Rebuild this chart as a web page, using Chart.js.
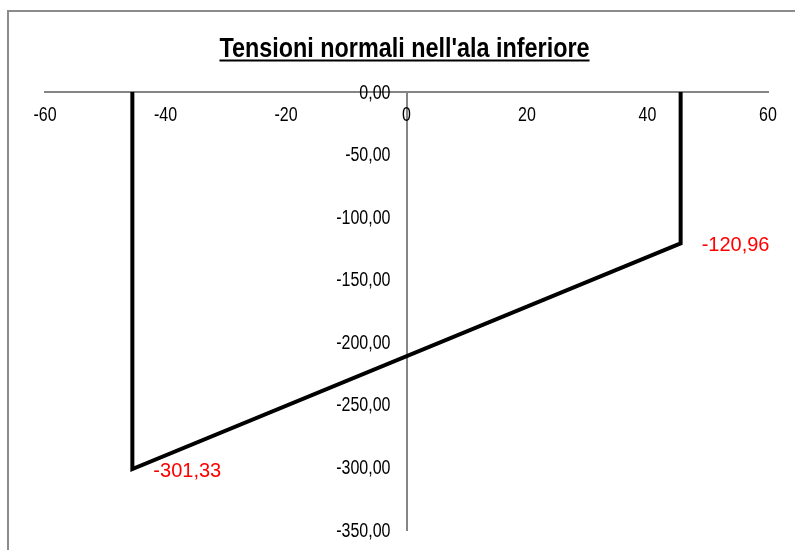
<!DOCTYPE html>
<html>
<head>
<meta charset="utf-8">
<script src="https://cdn.jsdelivr.net/npm/chart.js@4.4.1/dist/chart.umd.min.js"></script>
<style>
  html, body { margin: 0; padding: 0; background: #fff; }
  #wrap { width: 795px; height: 550px; position: relative; }
  canvas { display: block; }
</style>
</head>
<body>
<div id="wrap"><canvas id="c" width="795" height="550"></canvas></div>
<script>
const chartTitle = "Tensioni normali nell'ala inferiore";

// Bottom flange: transverse coordinate and normal stress
const flangeX = [-45.5, -45.5, 45.5, 45.5];
const stressValues = [0, -301.33, -120.96, 0];
const labelledIndices = [1, 2];

// Axis ticks
const xTickValues = [-60, -40, -20, 0, 20, 40, 60];
const yTickValues = [0, -50, -100, -150, -200, -250, -300, -350];

const SANS = '"Liberation Sans", Arial, sans-serif';
const NARROW_SCALE = 0.82; // Arial Narrow proportions

const fmt2 = v => v.toFixed(2).replace('.', ',');

const points = flangeX.map((x, i) => ({ x: x, y: stressValues[i] }));

// Draw text horizontally condensed, like a narrow typeface
function narrowText(ctx, text, x, y, align, squeeze) {
  ctx.save();
  ctx.translate(x, y);
  ctx.scale(squeeze || NARROW_SCALE, 1);
  ctx.textAlign = align;
  ctx.fillText(text, 0, 0);
  ctx.restore();
}

// White page with grey outer frame
const framePlugin = {
  id: 'frame',
  beforeDraw(chart) {
    const ctx = chart.ctx;
    ctx.save();
    ctx.fillStyle = '#ffffff';
    ctx.fillRect(0, 0, chart.width, chart.height);
    ctx.strokeStyle = '#8c8c8c';
    ctx.lineWidth = 2;
    ctx.strokeRect(8, 11, chart.width + 20, chart.height + 20);
    ctx.restore();
  }
};

// Tick labels in a narrow face, placed from the chart's own scales
const tickLabelPlugin = {
  id: 'narrowTicks',
  afterDraw(chart) {
    const ctx = chart.ctx;
    const xs = chart.scales.x, ys = chart.scales.y;
    const axisY = ys.getPixelForValue(0);
    const axisX = xs.getPixelForValue(0);
    ctx.save();
    ctx.font = '20px ' + SANS;
    ctx.fillStyle = '#000';
    ctx.textBaseline = 'middle';
    xs.ticks.forEach(t => {
      narrowText(ctx, String(t.value), xs.getPixelForValue(t.value), axisY + 23, 'center', 0.8);
    });
    ys.ticks.forEach(t => {
      narrowText(ctx, fmt2(t.value), axisX - 16, ys.getPixelForValue(t.value) + 1, 'right', 0.8);
    });
    ctx.restore();
  }
};

// Bold underlined title
const titlePlugin = {
  id: 'underlinedTitle',
  afterDraw(chart) {
    const ctx = chart.ctx;
    ctx.save();
    ctx.font = 'bold 28.5px ' + SANS;
    ctx.fillStyle = '#000';
    ctx.textBaseline = 'alphabetic';
    const cx = 404.5, base = 56.5;
    narrowText(ctx, chartTitle, cx, base, 'center');
    const w = ctx.measureText(chartTitle).width * NARROW_SCALE;
    ctx.fillRect(cx - w / 2, base + 3, w, 2);
    ctx.restore();
  }
};

// Red value labels next to the stress extremes
const valueLabelPlugin = {
  id: 'valueLabels',
  afterDatasetsDraw(chart) {
    const ctx = chart.ctx;
    const meta = chart.getDatasetMeta(0);
    ctx.save();
    ctx.font = '20px ' + SANS;
    ctx.fillStyle = '#ff0000';
    ctx.textAlign = 'left';
    ctx.textBaseline = 'middle';
    labelledIndices.forEach(i => {
      const el = meta.data[i];
      ctx.fillText(fmt2(stressValues[i]), el.x + 21, el.y + 2);
    });
    ctx.restore();
  }
};

new Chart(document.getElementById('c'), {
  type: 'scatter',
  data: {
    datasets: [{
      data: points,
      showLine: true,
      borderColor: '#000000',
      borderWidth: 4,
      borderJoinStyle: 'miter',
      pointRadius: 0,
      pointHoverRadius: 0,
      fill: false,
      tension: 0
    }]
  },
  options: {
    responsive: false,
    animation: false,
    devicePixelRatio: 1,
    events: [],
    layout: { padding: { left: 45, right: 27, top: 92, bottom: 20 } },
    plugins: { legend: { display: false }, title: { display: false }, tooltip: { enabled: false } },
    scales: {
      x: {
        type: 'linear',
        position: { y: 0 },
        min: -60, max: 60,
        afterBuildTicks: s => { s.ticks = xTickValues.map(v => ({ value: v })); },
        grid: { display: false, drawTicks: false },
        border: { display: true, color: '#858585', width: 2 },
        ticks: { display: false }
      },
      y: {
        type: 'linear',
        position: { x: 0 },
        min: -350, max: 0,
        afterBuildTicks: s => { s.ticks = yTickValues.map(v => ({ value: v })); },
        grid: { display: false, drawTicks: false },
        border: { display: true, color: '#858585', width: 2 },
        ticks: { display: false }
      }
    }
  },
  plugins: [framePlugin, tickLabelPlugin, titlePlugin, valueLabelPlugin]
});
</script>
</body>
</html>
